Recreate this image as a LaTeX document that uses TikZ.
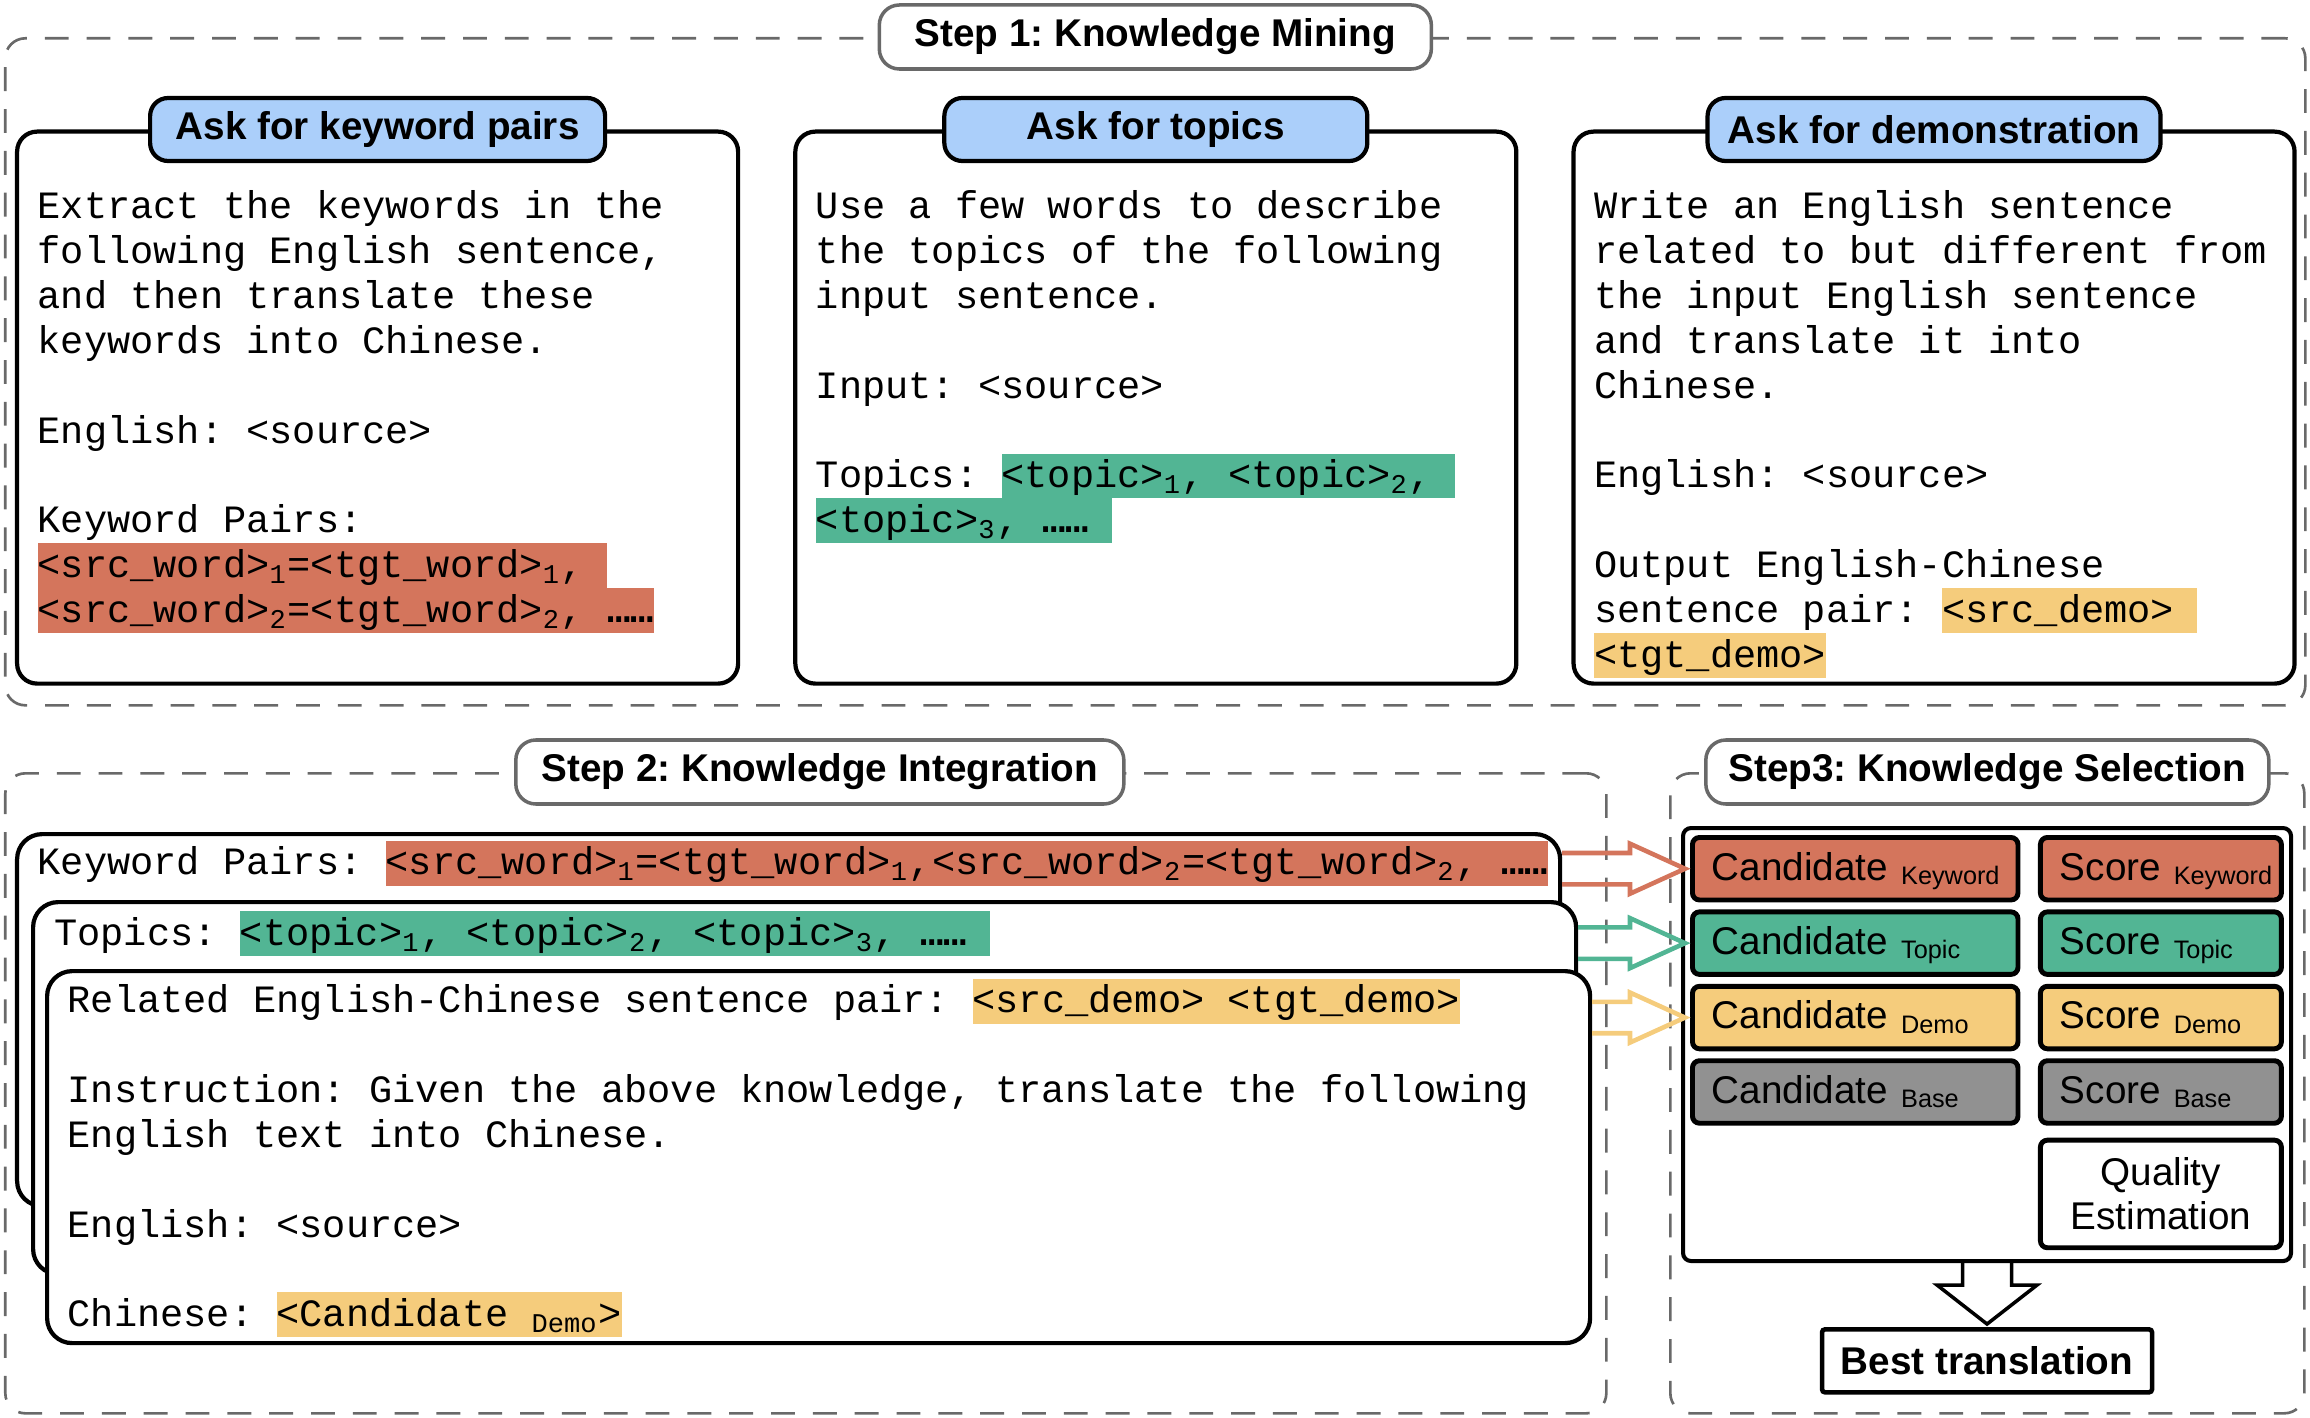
\documentclass[tikz,border=0pt]{standalone}
\usepackage{fontspec}
\setmainfont{Liberation Sans}
\setmonofont{Liberation Mono}
\usetikzlibrary{positioning, calc}
\definecolor{kwred}{RGB}{212,117,92}
\definecolor{topicteal}{RGB}{82,181,148}
\definecolor{demoyellow}{RGB}{245,204,124}
\definecolor{basegray}{RGB}{145,145,145}
\definecolor{askblue}{RGB}{171,207,250}
\definecolor{stepgray}{RGB}{105,105,105}
\setlength{\fboxsep}{0pt}
\frenchspacing
\newcommand{\ls}{\rule[-3pt]{0pt}{12.75pt}}
\newcommand{\hilite}[2]{\colorbox{#1}{\ls#2}}
\newcommand{\kind}[1]{\raisebox{-1.2pt}{\fontsize{7.2}{8}\selectfont #1}}
\tikzstyle{stage} = [rectangle, rounded corners=0.2cm, draw=stepgray, dash pattern=on 6.8pt off 5.1pt, line width=0.75pt]
\tikzstyle{steplabel} = [rectangle, rounded corners=0.2cm, draw=stepgray, line width=1pt, fill=white, minimum height=0.64cm, inner ysep=2pt, font=\bfseries\fontsize{11}{13}\selectfont]
\tikzstyle{panel} = [rectangle, rounded corners=0.2cm, draw=black, line width=1.2pt, fill=white, minimum width=7.21cm, minimum height=5.52cm]
\tikzstyle{ask} = [rectangle, rounded corners=0.18cm, draw=black, line width=1.2pt, fill=askblue, minimum height=0.63cm, inner ysep=2pt, font=\bfseries\fontsize{11}{13}\selectfont]
\tikzstyle{prompt} = [inner sep=0pt, align=left, anchor=north west, font=\ttfamily\fontsize{11}{12.75}\selectfont]
\tikzstyle{card} = [rectangle, rounded corners=0.25cm, draw=black, line width=1.2pt, fill=white, minimum width=15.43cm, minimum height=3.72cm, anchor=north west]
\tikzstyle{frame} = [rectangle, rounded corners=0.08cm, draw=black, line width=1.15pt, minimum width=6.08cm, minimum height=4.33cm, anchor=north west]
\tikzstyle{cell} = [rectangle, rounded corners=0.07cm, draw=black, line width=1.4pt, minimum height=0.625cm, inner xsep=0.195cm, text height=8pt, text depth=1.5pt, font=\fontsize{11}{13}\selectfont]
\tikzstyle{cand} = [cell, text width=2.865cm]
\tikzstyle{score} = [cell, text width=2.02cm]
\tikzstyle{qebox} = [rectangle, rounded corners=0.07cm, draw=black, line width=1.4pt, fill=white, minimum width=2.41cm, minimum height=1.076cm, align=center, font=\fontsize{11}{12.5}\selectfont]
\tikzstyle{bestbox} = [rectangle, rounded corners=0.03cm, draw=black, line width=1.3pt, minimum width=3.30cm, minimum height=0.63cm, font=\bfseries\fontsize{11}{13}\selectfont]
\tikzstyle{fatarrow} = [line width=1.3pt, line join=miter]

\begin{document}
\begin{tikzpicture}
\useasboundingbox (0,0) rectangle (23.10,-14.18);
% step 1
\node (mining) [stage, minimum width=23cm, minimum height=6.67cm, anchor=north west] at (0.04,-0.37) {};
\node (mininglabel) [steplabel, minimum width=5.52cm] at (mining.north) {Step 1: Knowledge Mining};
\node (keywords) [panel, anchor=north west] at (0.15,-1.295) {};
\node (topics) [panel, right=0.53cm of keywords] {};
\node (demos) [panel, right=0.53cm of topics] {};
\node (askkw) [ask, minimum width=4.55cm] at (keywords.north) {Ask for keyword pairs};
\node (asktopic) [ask, minimum width=4.23cm] at (topics.north) {Ask for topics};
\node (askdemo) [ask, minimum width=4.53cm] at (demos.north) {Ask for demonstration};
\node (kwtext) [prompt, below right=0.545cm and 0.22cm of keywords.north west] {\ls Extract the keywords in the\\ following English sentence,\\ and then translate these\\ keywords into Chinese.\\ \\ English: <source>\\ \\ Keyword Pairs:\\ \hilite{kwred}{<src\_word>\textsubscript{1}=<tgt\_word>\textsubscript{1}, }\\ \hilite{kwred}{<src\_word>\textsubscript{2}=<tgt\_word>\textsubscript{2}, \textbf{……}}};
\node (topictext) [prompt, below right=0.545cm and 0.22cm of topics.north west] {\ls Use a few words to describe\\ the topics of the following\\ input sentence.\\ \\ Input: <source>\\ \\ Topics: \hilite{topicteal}{<topic>\textsubscript{1}, <topic>\textsubscript{2}, }\\ \hilite{topicteal}{<topic>\textsubscript{3}, \textbf{……} }};
\node (demotext) [prompt, below right=0.545cm and 0.22cm of demos.north west] {\ls Write an English sentence\\ related to but different from\\ the input English sentence\\ and translate it into\\ Chinese.\\ \\ English: <source>\\ \\ Output English-Chinese\\ sentence pair: \hilite{demoyellow}{<src\_demo> }\\ \hilite{demoyellow}{<tgt\_demo>}};

% step 2
\node (integration) [stage, minimum width=16.01cm, minimum height=6.40cm, anchor=north west] at (0.04,-7.72) {};
\node (integrationlabel) [steplabel, minimum width=6.08cm, xshift=0.14cm] at (integration.north) {Step 2: Knowledge Integration};
\node (kwcard) [card] at (0.15,-8.32) {};
\node (kwpairs) [prompt, below right=0.08cm and 0.22cm of kwcard.north west] {Keyword Pairs: \hilite{kwred}{<src\_word>\textsubscript{1}=<tgt\_word>\textsubscript{1},<src\_word>\textsubscript{2}=<tgt\_word>\textsubscript{2}, \textbf{……}}};
\node (topcard) [card] at (0.31,-9.00) {};
\node (topiclist) [prompt, below right=0.106cm and 0.226cm of topcard.north west] {Topics: \hilite{topicteal}{<topic>\textsubscript{1}, <topic>\textsubscript{2}, <topic>\textsubscript{3}, \textbf{……} }};
\node (democard) [card] at (0.45,-9.69) {};
\node (instruction) [prompt, below right=0.09cm and 0.22cm of democard.north west] {Related English-Chinese sentence pair: \hilite{demoyellow}{<src\_demo> <tgt\_demo>}\\ \\ Instruction: Given the above knowledge, translate the following\\ English text into Chinese.\\ \\ English: <source>\\ \\ Chinese: \hilite{demoyellow}{<Candidate \textsubscript{Demo}>}};

% step 3
\node (selection) [stage, minimum width=6.34cm, minimum height=6.40cm, anchor=north west] at (16.69,-7.72) {};
\node (selectionlabel) [steplabel, minimum width=5.63cm] at (selection.north) {Step3: Knowledge Selection};
\node (select) [frame] at (16.81,-8.26) {};
\node (candkw) [cand, fill=kwred, anchor=north west] at (16.90,-8.35) {\mbox{Candidate \kind{Keyword}}};
\node (candtopic) [cand, fill=topicteal, below=0.07cm of candkw] {\mbox{Candidate \kind{Topic}}};
\node (canddemo) [cand, fill=demoyellow, below=0.07cm of candtopic] {\mbox{Candidate \kind{Demo}}};
\node (candbase) [cand, fill=basegray, below=0.07cm of canddemo] {\mbox{Candidate \kind{Base}}};
\node (scorekw) [score, fill=kwred, right=0.175cm of candkw] {\mbox{Score \kind{Keyword}}};
\node (scoretopic) [score, fill=topicteal, right=0.175cm of candtopic] {\mbox{Score \kind{Topic}}};
\node (scoredemo) [score, fill=demoyellow, right=0.175cm of canddemo] {\mbox{Score \kind{Demo}}};
\node (scorebase) [score, fill=basegray, right=0.175cm of candbase] {\mbox{Score \kind{Base}}};
\node (qe) [qebox, below=0.12cm of scorebase] {Quality\\Estimation};
\node (best) [bestbox, below=0.64cm of select] {Best translation};

\foreach \card/\cand/\col in {kwcard/candkw/kwred, topcard/candtopic/topicteal, democard/canddemo/demoyellow}
  \draw [fatarrow, draw=\col] ($(\card.east |- \cand.west)+(0,0.157)$) -- ($(\cand.west)+(-0.6,0.157)$) -- ++(0,0.093) -- ($(\cand.west)+(-0.05,0)$) -- ++(-0.55,-0.25) -- ++(0,0.093) -- ($(\card.east |- \cand.west)+(0,-0.157)$);
\draw [fatarrow, line width=1pt] ($(select.south)+(-0.245,0)$) -- ++(0,-0.22) -- ++(-0.255,0) -- ($(best.north)+(0,0.03)$) -- ($(select.south)+(0.5,-0.22)$) -- ++(-0.255,0) -- ++(0,0.22);
\end{tikzpicture}
\end{document}
